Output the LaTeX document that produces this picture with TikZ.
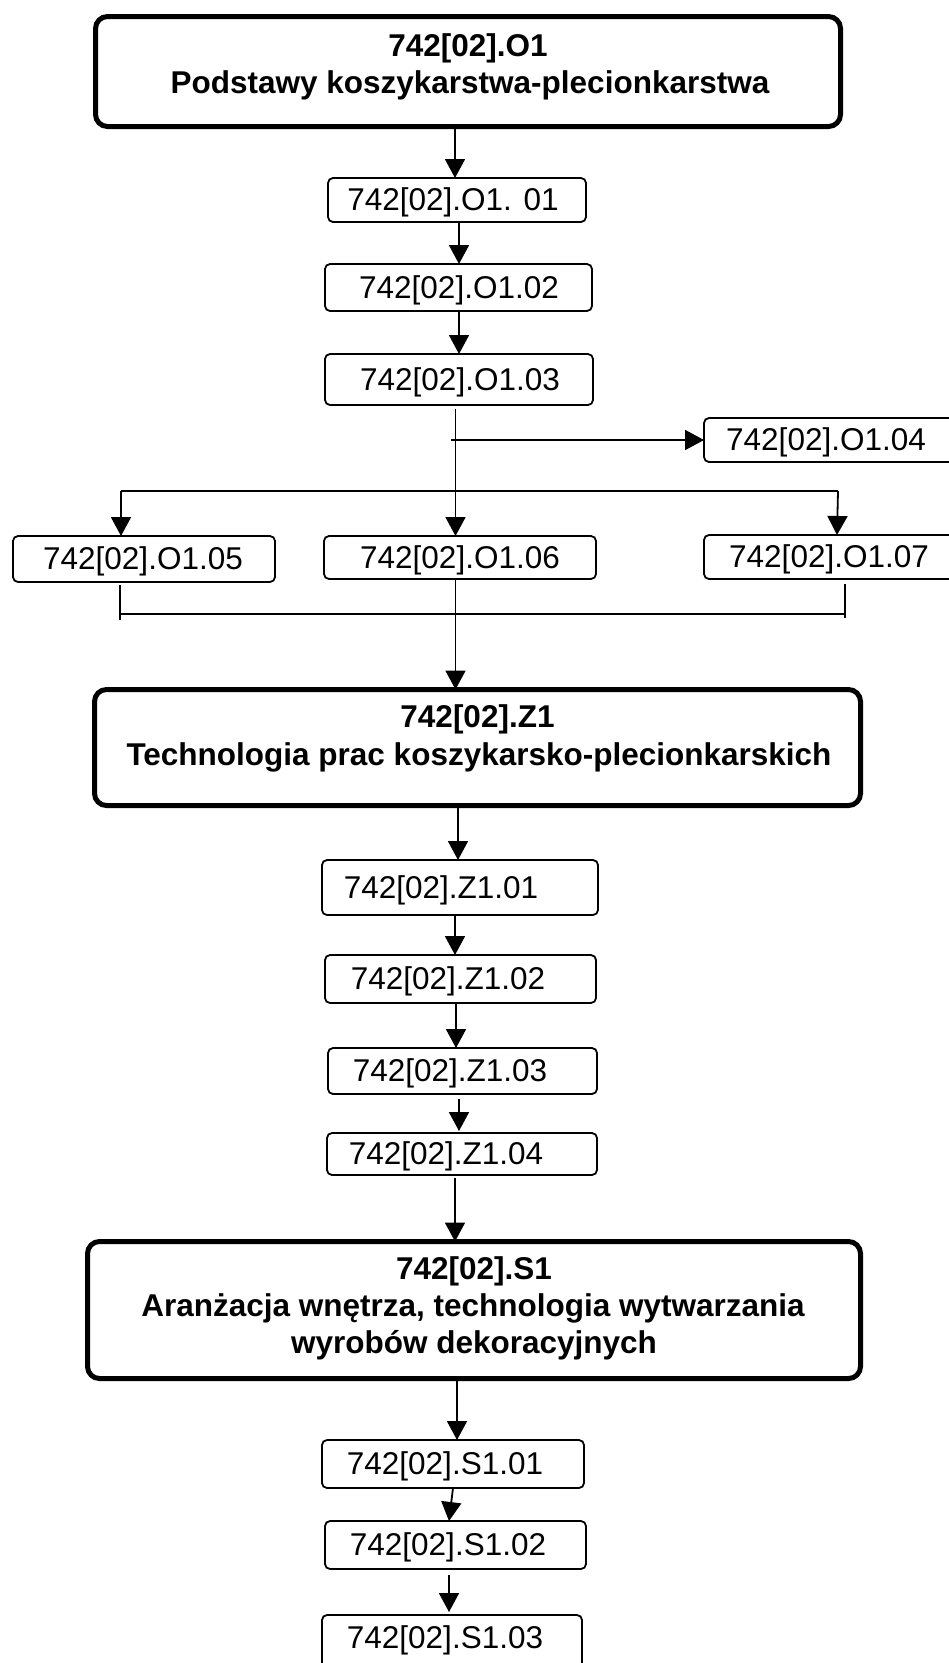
\documentclass[tikz,border=0pt]{standalone}
\usepackage{fontspec}
\setmainfont{Liberation Sans}
\usetikzlibrary{arrows.meta}
\begin{document}
\begin{tikzpicture}[x=1pt,y=-1pt,
  sbox/.style={draw, line width=1.8pt, rounded corners=5pt, inner sep=0pt, outer sep=0pt},
  bbox/.style={draw, line width=5pt, rounded corners=12pt, inner sep=0pt, outer sep=0pt},
  stxt/.style={font=\fontsize{31.5}{37}\selectfont, inner sep=0pt, anchor=base},
  btxt/.style={font=\fontsize{31.5}{37}\selectfont\bfseries, inner sep=0pt, anchor=base},
  conn/.style={line width=1.8pt},
  arr/.style={line width=1.8pt, -{Triangle[length=19pt,width=20pt]}},
  brk/.style={line width=1.4pt}]
\useasboundingbox (0,0) rectangle (949,1663);
\clip (0,0) rectangle (949,1663);

% ---- O1 block
\node[bbox, minimum width=745pt, minimum height=110pt] (o1) at (468,71.5) {};
\node[btxt] (o1a) at (468,56) {742[02].O1};
\node[btxt] (o1b) at (470,93) {Podstawy koszykarstwa-plecionkarstwa};

\node[sbox, minimum width=258pt, minimum height=44pt] (o101) at (457,200) {};
\node[stxt] (o101t) at (453,210.5) {742[02].O1. 01};
\node[sbox, minimum width=267pt, minimum height=47pt] (o102) at (458.5,287.5) {};
\node[stxt] (o102t) at (459,298) {742[02].O1.02};
\node[sbox, minimum width=268pt, minimum height=51pt] (o103) at (459,379.5) {};
\node[stxt] (o103t) at (460,390) {742[02].O1.03};
\node[sbox, minimum width=255pt, minimum height=44pt] (o104) at (831.5,440) {};
\node[stxt, anchor=base west] (o104t) at (726,450.5) {742[02].O1.04};
\node[sbox, minimum width=262pt, minimum height=46pt] (o105) at (144,559) {};
\node[stxt] (o105t) at (143,569.5) {742[02].O1.05};
\node[sbox, minimum width=272pt, minimum height=43pt] (o106) at (460,557.5) {};
\node[stxt] (o106t) at (460,568) {742[02].O1.06};
\node[sbox, minimum width=255pt, minimum height=44pt] (o107) at (831.5,557) {};
\node[stxt, anchor=base west] (o107t) at (729,567.5) {742[02].O1.07};

% ---- Z1 block
\node[bbox, minimum width=766pt, minimum height=116pt] (z1) at (477.5,747.5) {};
\node[btxt] (z1a) at (477.5,727) {742[02].Z1};
\node[btxt] (z1b) at (479,765) {Technologia prac koszykarsko-plecionkarskich};

\node[sbox, minimum width=276pt, minimum height=55pt] (z101) at (460,887.5) {};
\node[stxt] (z101t) at (441,898) {742[02].Z1.01};
\node[sbox, minimum width=271pt, minimum height=48pt] (z102) at (460.5,979) {};
\node[stxt] (z102t) at (448,989.5) {742[02].Z1.02};
\node[sbox, minimum width=269pt, minimum height=46pt] (z103) at (462.5,1071) {};
\node[stxt] (z103t) at (450,1081.5) {742[02].Z1.03};
\node[sbox, minimum width=270pt, minimum height=42pt] (z104) at (462,1154) {};
\node[stxt] (z104t) at (446,1164.5) {742[02].Z1.04};

% ---- S1 block
\node[bbox, minimum width=773pt, minimum height=137pt] (s1) at (474,1310) {};
\node[btxt] (s1a) at (474,1279) {742[02].S1};
\node[btxt] (s1b) at (473,1316) {Aranżacja wnętrza, technologia wytwarzania};
\node[btxt] (s1c) at (474,1353) {wyrobów dekoracyjnych};

\node[sbox, minimum width=262pt, minimum height=48pt] (s101) at (453,1464) {};
\node[stxt] (s101t) at (445,1474.5) {742[02].S1.01};
\node[sbox, minimum width=261pt, minimum height=48pt] (s102) at (455.5,1545) {};
\node[stxt] (s102t) at (448,1555.5) {742[02].S1.02};
\node[sbox, minimum width=260pt, minimum height=84pt] (s103) at (452,1657) {};
\node[stxt] (s103t) at (445,1648) {742[02].S1.03};

% ---- free ends
\coordinate (h1) at (451,440);
\coordinate (bl) at (121,491);
\coordinate (br) at (838,491);
\coordinate (lt1) at (120,585);
\coordinate (lb1) at (120,620);
\coordinate (lt2) at (845,584);
\coordinate (lb2) at (845,618);
\coordinate (ll) at (120,614);
\coordinate (lr) at (845,614);

% ---- connectors
\draw[arr] ([xshift=-13pt]o1.south) -- ([xshift=-2pt]o101.north);
\draw[arr] ([xshift=2pt]o101.south) -- ([xshift=0.5pt]o102.north);
\draw[arr] ([xshift=0.5pt]o102.south) -- (o103.north);
\draw[arr] ([xshift=-3.5pt,yshift=-4pt]o103.south) -- ([xshift=-4.5pt]o106.north);
\draw[arr] (h1) -- (o104.west);
\draw[conn] (bl) -- (br);
\draw[arr] (bl) -- (bl |- o105.north);
\draw[arr] (br) -- ([xshift=5.5pt]o107.north);
\draw[brk] (lt1) -- (lb1);
\draw[brk] (lt2) -- (lb2);
\draw[brk] (ll) -- (lr);
\draw[arr] ([xshift=-4.5pt]o106.south) -- ([xshift=-22pt]z1.north);
\draw[arr] ([xshift=-19.5pt]z1.south) -- ([xshift=-2pt]z101.north);
\draw[arr] ([xshift=-5pt]z101.south) -- ([xshift=-5.5pt]z102.north);
\draw[arr] ([xshift=-4.5pt]z102.south) -- ([xshift=-6.5pt]z103.north);
\draw[arr] ([xshift=-3.5pt,yshift=-5pt]z103.south) -- ([xshift=-3pt,yshift=2pt]z104.north);
\draw[arr] ([xshift=-7pt,yshift=-3pt]z104.south) -- ([xshift=-19pt]s1.north);
\draw[arr] ([xshift=-17pt]s1.south) -- ([xshift=4pt]s101.north);
\draw[arr] (s101.south) -- ([xshift=-6.5pt]s102.north);
\draw[arr] ([xshift=-6.5pt,yshift=-6pt]s102.south) -- ([xshift=-3pt,yshift=3pt]s103.north);
\end{tikzpicture}
\end{document}
